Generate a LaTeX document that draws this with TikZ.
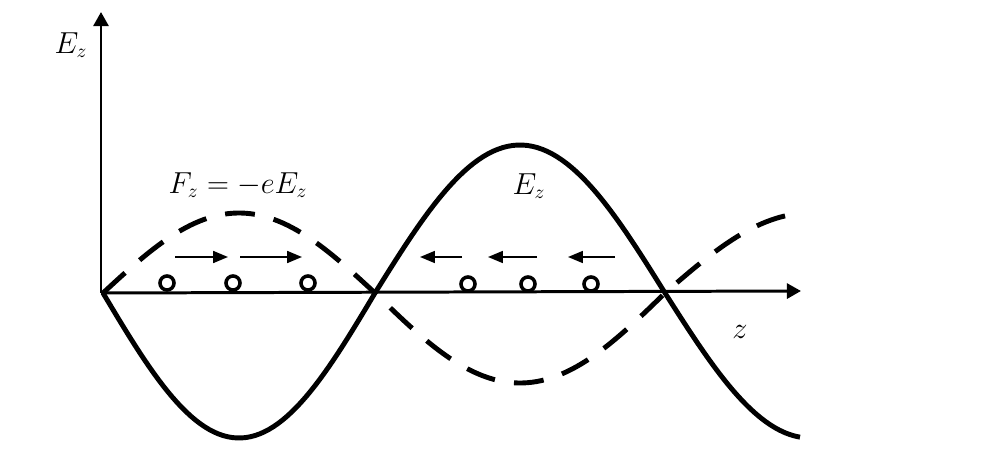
\documentclass[tikz,border=0pt]{standalone}
\usepackage{fontspec}
\setmainfont{Liberation Serif}
\usetikzlibrary{arrows.meta}
\tikzset{
  axis/.style={line width=1.7pt, -{Triangle[length=8pt,width=8.5pt]}},
  field/.style={line width=2.8pt},
  force/.style={line width=2.8pt, dash pattern=on 17pt off 11pt},
  push/.style={line width=1.1pt, -{Triangle[length=8.5pt,width=6.8pt]}},
  bunch/.style={circle, draw, line width=2pt, minimum size=8pt, inner sep=0pt, fill=white},
  lbl/.style={font=\fontsize{16}{18}\selectfont, inner sep=0pt}
}
\begin{document}
\begin{tikzpicture}[x=0.02cm, y=-0.02cm]
\useasboundingbox (0,0) rectangle (982,462);
\coordinate (O) at (101,293);
\coordinate (ytip) at (101,12);
\coordinate (xtip) at (801,291);
\draw[axis] (O) -- (ytip);
\draw[axis] (O) -- (xtip);
% field and force
\draw[field] plot[domain=103:375, samples=60] (\x, {293+145*sin((\x-103)/272*180)})
  -- plot[domain=375:665, samples=60] (\x, {293-148*sin((\x-375)/290*180)})
  -- plot[domain=665:800, samples=40] (\x, {293+145*sin((\x-665)/290*180)});
\draw[force] plot[domain=103:375, samples=60] (\x, {293-80*sin((\x-103)/272*180)})
  -- plot[domain=375:665, samples=60] (\x, {293+90*sin((\x-375)/290*180)})
  -- plot[domain=665:800, samples=40] (\x, {293-80*sin((\x-665)/290*180)});
% electrons
\node[bunch] (e1) at (167,283){};
\node[bunch] (e2) at (233,283){};
\node[bunch] (e3) at (308,283){};
\node[bunch] (e4) at (468,284){};
\node[bunch] (e5) at (528,284){};
\node[bunch] (e6) at (591,284){};
\coordinate (r1a) at (175,257);
\coordinate (r1b) at (228,257);
\coordinate (r2a) at (240,257);
\coordinate (r2b) at (302,257);
\coordinate (l1a) at (462,257);
\coordinate (l1b) at (420,257);
\coordinate (l2a) at (537,257);
\coordinate (l2b) at (488,257);
\coordinate (l3a) at (615,257);
\coordinate (l3b) at (568,257);
\draw[push] (r1a) -- (r1b);
\draw[push] (r2a) -- (r2b);
\draw[push] (l1a) -- (l1b);
\draw[push] (l2a) -- (l2b);
\draw[push] (l3a) -- (l3b);
% labels
\node[lbl] (ylabel) at (71,45){$E_z$};
\node[lbl] (flabel) at (238,185){$F_z = -eE_z$};
\node[lbl] (elabel) at (529,186){$E_z$};
\node[lbl] (zlabel) at (740,332){$z$};
\end{tikzpicture}
\end{document}
